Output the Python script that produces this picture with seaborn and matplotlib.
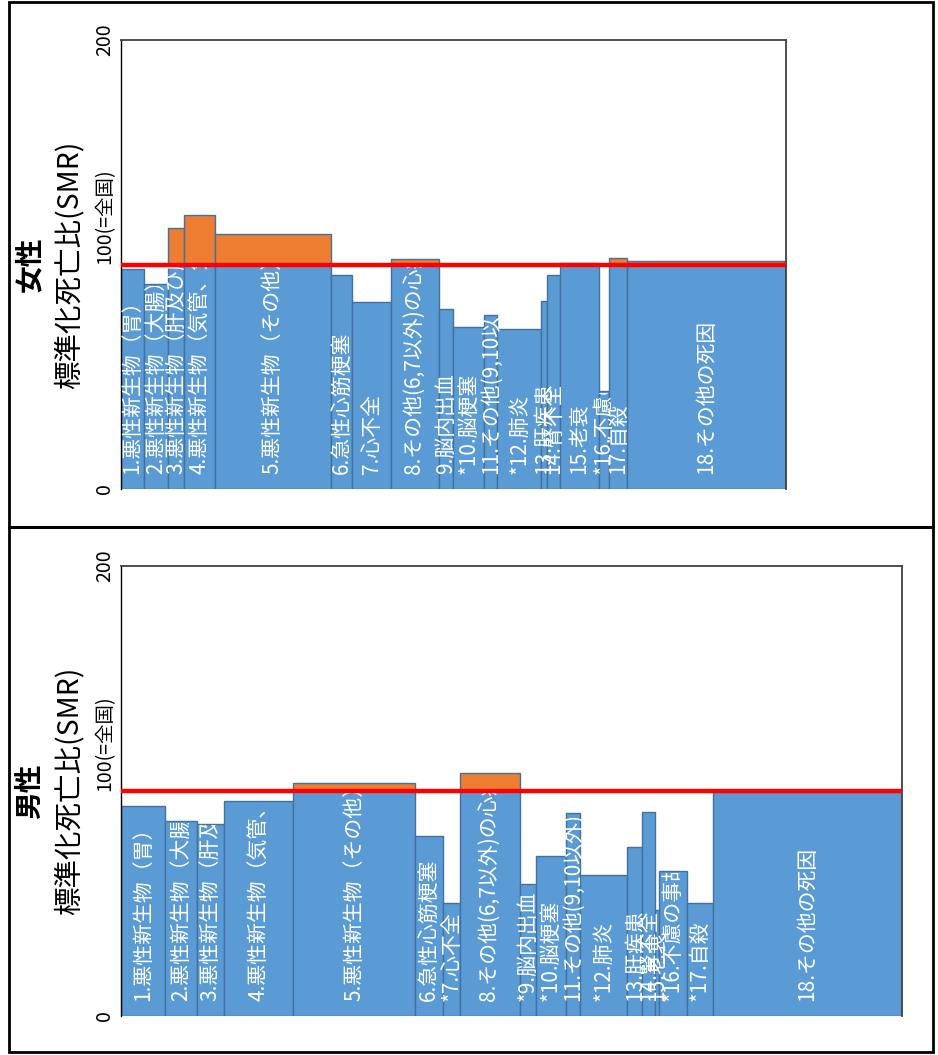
import numpy as np
import matplotlib.pyplot as plt
import seaborn as sns
from matplotlib.patches import Rectangle
from matplotlib.transforms import Bbox, TransformedBbox

# causes of death (same order in both panels)
causes = ['悪性新生物（胃）', '悪性新生物（大腸）', '悪性新生物（肝及び肝内胆管）',
          '悪性新生物（気管、気管支及び肺）', '悪性新生物（その他）', '急性心筋梗塞',
          '心不全', 'その他(6,7以外)の心疾患', '脳内出血', '脳梗塞',
          'その他(9,10以外)の脳血管疾患', '肺炎', '肝疾患', '腎不全', '老衰',
          '不慮の事故', '自殺', 'その他の死因']

# '*' = significant difference
f_marks = ['', '', '', '', '', '', '', '', '', '*', '', '*', '', '', '', '*', '', '']
m_marks = ['', '', '', '', '', '', '*', '', '*', '*', '', '*', '', '', '', '*', '*', '']

# female: SMR and bar width (number of deaths, relative)
f_smr = [97.9, 91.3, 116.1, 122.0, 113.7, 95.2, 83.1, 102.3, 80.0, 72.3,
         77.5, 71.1, 83.9, 95.5, 100.8, 43.5, 102.8, 101.5]
f_width = [23.0, 24.3, 16.0, 30.3, 115.7, 21.7, 38.6, 47.7, 14.3, 31.0,
           13.0, 44.4, 6.0, 12.3, 39.0, 10.0, 17.7, 159.3]

# male
m_smr = [93.5, 86.5, 85.5, 95.4, 103.7, 80.1, 50.1, 108.1, 58.5, 71.3,
         90.1, 62.8, 75.3, 90.5, 47.1, 64.3, 50.1, 99.4]
m_width = [44.3, 31.7, 27.0, 69.0, 122.0, 27.6, 16.7, 60.7, 15.3, 30.0,
           14.0, 47.7, 14.6, 13.4, 3.6, 28.0, 25.4, 189.3]

yticks = [0, 100, 200]
ytick_labels = ['0', '100(=全国)', '200']

BLUE = '#5B9BD5'
ORANGE = '#ED7D31'
EDGE = '#41719C'

sns.set_theme(style='white')
plt.rcParams['font.family'] = ['Noto Sans CJK JP', 'DejaVu Sans']
plt.rcParams['text.color'] = 'black'
plt.rcParams['ytick.color'] = 'black'

W, H = 938, 1055
fig = plt.figure(figsize=(W / 100, H / 100), dpi=100)


def draw_panel(ax, smr, width, marks):
    smr = np.array(smr)
    width = np.array(width)
    left = np.concatenate([[0], np.cumsum(width)[:-1]])
    total = width.sum()

    base = np.minimum(smr, 100)
    over = smr - 100
    ax.bar(left, base, width=width, align='edge', color=BLUE,
           edgecolor=EDGE, linewidth=1, zorder=2)
    m = over > 0
    ax.bar(left[m], over[m], width=width[m], bottom=100, align='edge',
           color=ORANGE, edgecolor=EDGE, linewidth=1, zorder=2)

    # labels inside the bars, cut off at the bar top (or the 100 line)
    for i, (x, w) in enumerate(zip(left, width)):
        lab = f'{marks[i]}{i + 1}.{causes[i]}'
        t = ax.text(x + w / 2, 6.5, lab, rotation=90, ha='center', va='bottom',
                    color='white', fontsize=15, zorder=3)
        top = min(base[i], 100) - 0.8
        clip = TransformedBbox(Bbox([[x - 40, 0], [x + w + 40, top]]), ax.transData)
        t.set_clip_on(True)
        t.set_clip_box(clip)
        t.set_clip_path(None)

    ax.axhline(100, color='#FF0000', lw=3.2, zorder=4)

    ax.set_xlim(0, total)
    ax.set_ylim(0, 200)
    ax.set_xticks([])
    ax.set_yticks(yticks, ytick_labels)
    ax.tick_params(axis='y', length=0, pad=4, labelsize=14)
    for lab in ax.get_yticklabels():
        lab.set_rotation(90)
        lab.set_verticalalignment('center')
    ax.get_yticklabels()[1].set_verticalalignment('bottom')

    ax.spines['bottom'].set_visible(False)
    ax.spines['left'].set_color('black')
    ax.spines['left'].set_linewidth(1)
    for s in ['top', 'right']:
        ax.spines[s].set_color('#404040')
        ax.spines[s].set_linewidth(1.3)


ax_f = fig.add_axes([121 / W, 1 - 489 / H, 665 / W, 449 / H])
draw_panel(ax_f, f_smr, f_width, f_marks)

ax_m = fig.add_axes([121 / W, 1 - 1016 / H, 781 / W, 450 / H])
draw_panel(ax_m, m_smr, m_width, m_marks)

# titles and y labels
for title, yc in [('女性', 1 - 264.5 / H), ('男性', 1 - 791 / H)]:
    fig.text(30 / W, yc, title, rotation=90, ha='center', va='center',
             fontsize=20, fontweight='bold')
    fig.text(69 / W, yc, '標準化死亡比(SMR)', rotation=90, ha='center',
             va='center', fontsize=20.5)

# outer frames
fig.add_artist(Rectangle((9 / W, 1 - 527 / H), 924 / W, 525 / H,
                         transform=fig.transFigure, fill=False, ec='black', lw=2))
fig.add_artist(Rectangle((9 / W, 1 - 1052 / H), 924 / W, 525 / H,
                         transform=fig.transFigure, fill=False, ec='black', lw=2))

fig.savefig('out.png', dpi=100)
